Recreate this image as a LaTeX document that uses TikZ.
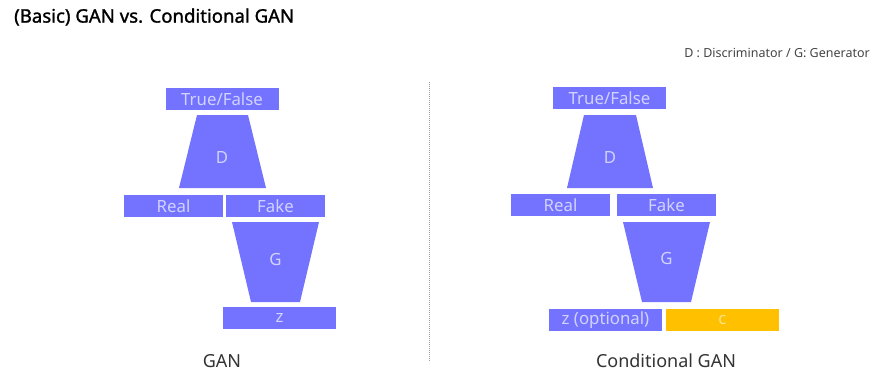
\documentclass[tikz,border=0pt]{standalone}
\usepackage{fontspec}
\setmainfont{Noto Sans}
\newfontfamily\headfont[FakeBold=1.3]{Noto Sans}
\definecolor{netblue}{HTML}{7373FF}
\definecolor{netlabel}{HTML}{D2D2FF}
\definecolor{condyellow}{HTML}{FFC000}
\definecolor{condlabel}{HTML}{FFE38A}
\definecolor{inktext}{HTML}{333333}
\definecolor{notetext}{HTML}{444444}
\tikzset{
  tagbox/.style={fill=netblue, draw=none, minimum width=99pt, minimum height=22pt,
    inner sep=0pt, text=netlabel, font=\fontsize{16.8}{16.8}\selectfont},
  widebox/.style={tagbox, minimum width=113pt},
  condbox/.style={widebox, fill=condyellow, text=condlabel},
  netshape/.style={fill=netblue, draw=none},
  netname/.style={text=netlabel, font=\fontsize{16.8}{16.8}\selectfont, inner sep=0pt},
  caption/.style={text=inktext, font=\fontsize{18}{18}\selectfont, inner sep=0pt},
  divider/.style={draw=gray!80, line width=0.8pt, dash pattern=on 1pt off 1pt}
}
\begin{document}
\begin{tikzpicture}[x=1pt, y=-1pt]
\useasboundingbox (0,0) rectangle (876,389);

% heading and legend
\node[anchor=west, inner sep=0pt, font=\headfont\fontsize{18.6}{18.6}\selectfont] (title) at (14,17) {(Basic) GAN vs. Conditional GAN};
\node[anchor=east, inner sep=0pt, text=notetext, font=\fontsize{12.5}{12.5}\selectfont] (legend) at (870,53) {D : Discriminator / G: Generator};

% ---------- plain GAN ----------
\node[widebox] (tfL) at (222,99) {True/False};
\fill[netshape] (197,115) -- (248,115) -- (266,188) -- (179,188) -- cycle;
\node[netname] (dL) at (222,157) {D};
\node[tagbox] (realL) at (173.5,206) {Real};
\node[tagbox] (fakeL) at (275.5,206) {Fake};
\fill[netshape] (232,222) -- (319,222) -- (300,302) -- (251,302) -- cycle;
\node[netname] (gL) at (275.5,259) {G};
\node[widebox] (zL) at (279.5,318) {z};
\node[caption] (capL) at (222,361) {GAN};

% divider between the two models
\coordinate (divtop) at (429,82);
\coordinate (divbot) at (429,361);
\draw[divider] (divtop) -- (divbot);

% ---------- conditional GAN ----------
\node[widebox] (tfR) at (609.5,98) {True/False};
\fill[netshape] (584,115) -- (636,115) -- (653,188) -- (567,188) -- cycle;
\node[netname] (dR) at (610,157) {D};
\node[tagbox] (realR) at (560.5,205) {Real};
\node[tagbox] (fakeR) at (666.5,205) {Fake};
\fill[netshape] (623,222) -- (710,222) -- (691,302) -- (642,302) -- cycle;
\node[netname] (gR) at (666.5,258) {G};
\node[widebox] (zR) at (605.5,320) {z (optional)};
\node[condbox] (cR) at (722.5,320) {c};
\node[caption] (capR) at (666,361) {Conditional GAN};
\end{tikzpicture}
\end{document}
